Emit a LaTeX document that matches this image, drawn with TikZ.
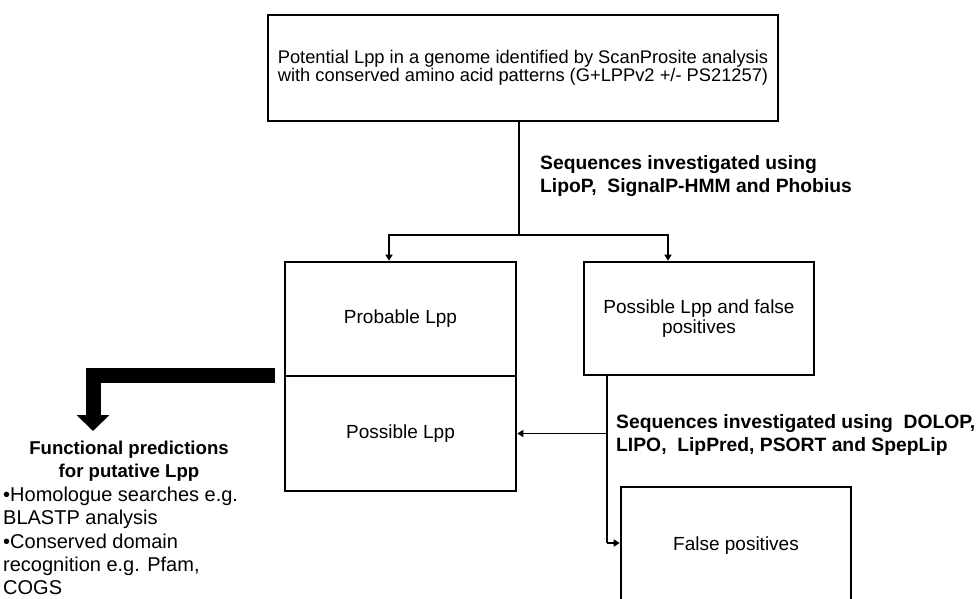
\documentclass[tikz,border=0pt]{standalone}
\usepackage{fontspec}
\setmainfont{Liberation Sans}
\usetikzlibrary{arrows.meta}
\begin{document}
\begin{tikzpicture}[x=1pt,y=-1pt,
  box/.style={draw, line width=2.6pt, inner sep=0pt, align=center,
    font=\fontsize{19}{20}\selectfont},
  conn/.style={line width=1.8pt, -{Triangle[length=6pt,width=7pt]}},
  plain/.style={line width=1.8pt},
  lbl/.style={align=left, inner sep=0pt, font=\fontsize{19.3}{23}\selectfont\bfseries},
  bigarrow/.style={line width=15pt, -{Triangle[length=16pt,width=32pt]}}]
\useasboundingbox (0,0) rectangle (980,599);
\node[box, minimum width=510pt, minimum height=106pt, font=\fontsize{18.3}{17.5}\selectfont] (top) at (523,68)
  {Potential Lpp in a genome identified by ScanProsite analysis\\with conserved amino acid patterns (G+LPPv2 +/- PS21257)};
\node[box, minimum width=231pt, minimum height=114pt] (prob) at (400.5,319) {Probable Lpp};
\node[box, minimum width=231pt, minimum height=115pt] (poss) at (400.5,433.5) {Possible Lpp};
\node[box, minimum width=230pt, minimum height=113pt] (pfp) at (699,318.5) {Possible Lpp and false\\positives};
\node[box, minimum width=230pt, minimum height=118pt] (fp) at (736,546) {False positives};
\node[lbl, anchor=west] (l1) at (540,176) {Sequences investigated using\\LipoP,\ \ SignalP-HMM and Phobius};
\node[lbl, anchor=west] (l2) at (616,435) {Sequences investigated using\ \ DOLOP,\\LIPO,\ \ LipPred, PSORT and SpepLip};
\node[align=center, inner sep=0pt, font=\fontsize{18.6}{23.5}\selectfont\bfseries] (ftitle) at (129,461)
  {Functional predictions\\for putative Lpp};
\node[align=left, inner sep=0pt, anchor=north west, font=\fontsize{20}{23.3}\selectfont] (flist) at (3,487)
  {•Homologue searches e.g.\\BLASTP analysis\\•Conserved domain\\recognition e.g. Pfam,\\COGS};
% connectors
\coordinate (split) at (519,235);
\draw[plain] (top.south -| split) -- (split);
\draw[conn] (split) -| (prob.north -| 389,0);
\draw[conn] (split) -| (pfp.north -| 668,0);
\coordinate (down) at (607,543);
\draw[plain] (pfp.south -| down) -- (down);
\draw[conn] (down) -- (fp.west |- down);
\draw[conn] (pfp.south -| down) |- (poss.east);
\coordinate (bigstart) at (275,375);
\coordinate (bigend) at (93,431);
\draw[bigarrow] (bigstart) -| (bigend);
\end{tikzpicture}
\end{document}
